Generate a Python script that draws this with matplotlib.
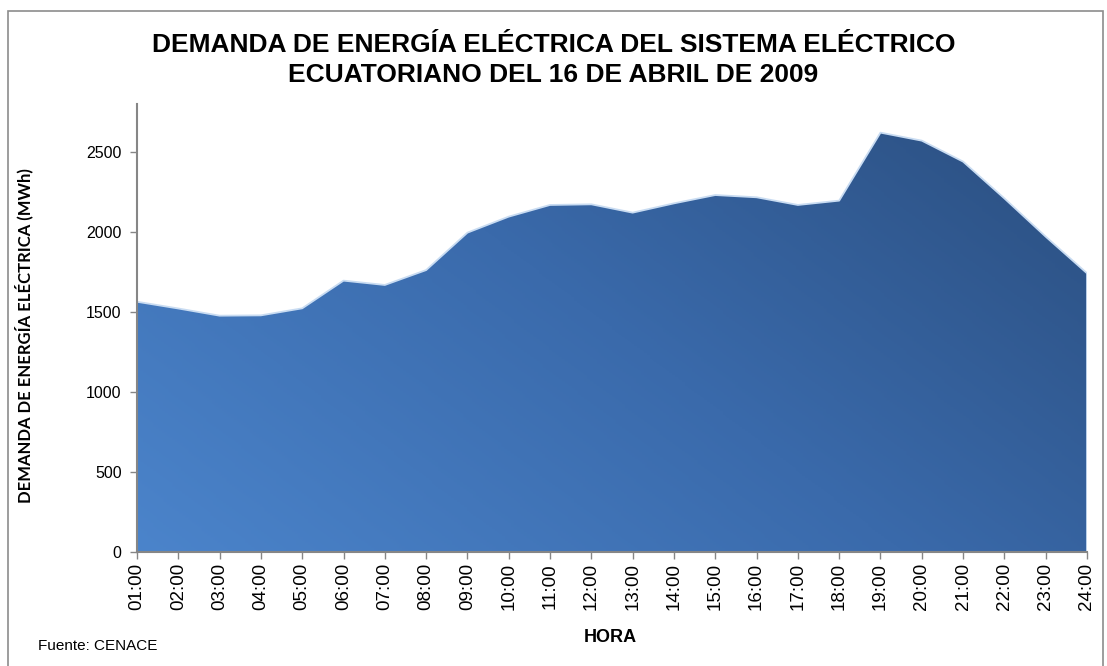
import matplotlib
matplotlib.use("Agg")
import matplotlib.pyplot as plt
import numpy as np
from matplotlib.colors import LinearSegmentedColormap
from matplotlib.patches import Polygon, Rectangle

plt.rcParams['font.family'] = ['Liberation Sans', 'DejaVu Sans']

horas = ["%02d:00" % h for h in range(1, 25)]
demanda = [1564, 1522, 1477, 1479, 1523, 1696, 1669, 1762, 1996, 2096,
           2169, 2173, 2121, 2179, 2231, 2217, 2169, 2196, 2621, 2571,
           2440, 2210, 1971, 1742]
yticks = [0, 500, 1000, 1500, 2000, 2500]

titulo = "DEMANDA DE ENERGÍA ELÉCTRICA DEL SISTEMA ELÉCTRICO\nECUATORIANO DEL 16 DE ABRIL DE 2009"
ylabel = "DEMANDA DE ENERGÍA ELÉCTRICA (MWh)"
xlabel = "HORA"
fuente = "Fuente: CENACE"

fig = plt.figure(figsize=(11.07, 6.66), dpi=100)
fig.patch.set_facecolor("white")
# marco exterior del grafico
fig.patches.append(Rectangle((8 / 1107, -0.01), 1095 / 1107, 1 - 11 / 666 + 0.01,
                             transform=fig.transFigure, fill=False,
                             edgecolor="#8c8c8c", lw=1.2))

ax = fig.add_axes([137 / 1107, 114 / 666, 950 / 1107, 448 / 666])
x = np.arange(len(demanda))
ymax = 2800

# relleno con degradado recortado al area
cmap = LinearSegmentedColormap.from_list("azul", ["#4b84cb", "#3a6aab", "#2a4d7d"])
gx, gy = np.meshgrid(np.linspace(0, 1, 300), np.linspace(0, 1, 200))
grad = 0.62 * gx + 0.38 * gy
im = ax.imshow(grad, cmap=cmap, origin="lower", aspect="auto",
               extent=[x[0], x[-1], 0, ymax], zorder=1)
verts = [(x[0], 0)] + list(zip(x, demanda)) + [(x[-1], 0)]
poly = Polygon(verts, closed=True, facecolor="none", edgecolor="none")
ax.add_patch(poly)
im.set_clip_path(poly)
ax.plot(x, demanda, color="#c9dcf2", lw=1.3, zorder=2)
ax.plot([x[0], x[0]], [0, demanda[0]], color="#c9dcf2", lw=1.3, zorder=2)
ax.plot([x[-1], x[-1]], [0, demanda[-1]], color="#c9dcf2", lw=1.3, zorder=2)

ax.set_xlim(x[0], x[-1])
ax.set_ylim(0, ymax)
ax.set_yticks(yticks)
ax.set_xticks(x)
ax.set_xticklabels(horas, rotation=90)
ax.tick_params(axis="both", colors="#868686", labelcolor="black", length=5, width=1)
ax.tick_params(axis="x", pad=3, labelsize=13.5)
ax.tick_params(axis="y", pad=6, labelsize=11.5)
for s in ["top", "right"]:
    ax.spines[s].set_visible(False)
for s in ["left", "bottom"]:
    ax.spines[s].set_color("#868686")
    ax.spines[s].set_linewidth(1.5)

fig.text(0.5, 1 - 60 / 666, titulo, ha="center", va="center", fontsize=19,
         fontweight="bold", linespacing=1.28)
fig.text(24 / 1107, 330 / 666, ylabel, rotation=90, ha="center", va="center",
         fontsize=12, fontweight="bold", family="Lato")
fig.text(610 / 1107, 1 - 637 / 666, xlabel, ha="center", va="center",
         fontsize=13, fontweight="bold")
fig.text(38 / 1107, 1 - 646 / 666, fuente, ha="left", va="center", fontsize=11)

fig.savefig("out.png", dpi=100)
